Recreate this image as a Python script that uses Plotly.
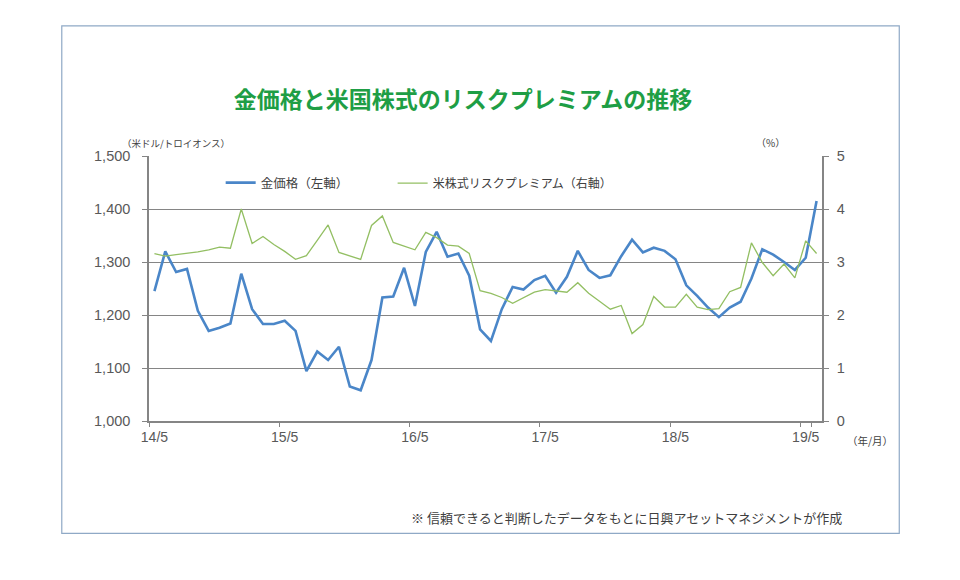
import pandas as pd
import plotly.graph_objects as go

# 月次データ 2014/5 - 2019/6
months = [f"{d.year % 100}/{d.month}" for d in pd.date_range("2014-05-01", periods=62, freq="MS")]

gold = [1245, 1320, 1281, 1287, 1208, 1170, 1176, 1184, 1278, 1211,
        1183, 1183, 1189, 1170, 1094, 1131, 1115, 1140, 1065, 1058,
        1115, 1233, 1235, 1289, 1217, 1319, 1357, 1310, 1316, 1274,
        1173, 1151, 1211, 1253, 1248, 1266, 1274, 1242, 1272, 1321,
        1285, 1270, 1275, 1311, 1342, 1318, 1327, 1321, 1305, 1256,
        1236, 1214, 1196, 1214, 1225, 1269, 1324, 1314, 1300, 1285,
        1308, 1415]

premium = [3.16, 3.11, 3.14, 3.16, 3.19, 3.23, 3.28, 3.26, 4.00, 3.35,
           3.48, 3.33, 3.20, 3.05, 3.12, 3.41, 3.70, 3.18, 3.12, 3.05,
           3.69, 3.87, 3.37, 3.30, 3.23, 3.56, 3.46, 3.32, 3.30, 3.16,
           2.46, 2.41, 2.33, 2.22, 2.33, 2.43, 2.48, 2.45, 2.43, 2.61,
           2.41, 2.26, 2.11, 2.18, 1.65, 1.82, 2.35, 2.15, 2.15, 2.39,
           2.15, 2.10, 2.12, 2.44, 2.52, 3.36, 2.99, 2.74, 2.96, 2.70,
           3.40, 3.16]

tick_months = months[::12]
left_ticks = [1000, 1100, 1200, 1300, 1400, 1500]
right_ticks = [0, 1, 2, 3, 4, 5]

font = "Liberation Sans, Noto Sans CJK JP, sans-serif"
jp = "Noto Sans CJK JP, sans-serif"
grey = "#858585"

fig = go.Figure()
fig.add_trace(go.Scatter(x=months, y=gold, name="金価格（左軸）", mode="lines",
                         line=dict(color="#4a86c8", width=2.6),
                         showlegend=True, legend="legend"))
fig.add_trace(go.Scatter(x=months, y=premium, name="米株式リスクプレミアム（右軸）", mode="lines",
                         line=dict(color="#93bf63", width=1.3), yaxis="y2",
                         showlegend=True, legend="legend2"))

# ページの余白 (8px) を差し引いた寸法
fig.update_layout(
    width=952, height=572,
    margin=dict(l=141, r=138, t=148, b=159),
    paper_bgcolor="white", plot_bgcolor="white",
    showlegend=True,
    font=dict(family=font, size=13, color="#595959"),
    title=dict(text="<b>金価格と米国株式のリスクプレミアムの推移</b>",
               x=0.478, xanchor="center", y=0.839, yanchor="middle",
               font=dict(family=jp, size=23, color="#1e9e45")),
    xaxis=dict(type="category", range=[-0.5, 61.5], tickson="boundaries",
               tickvals=tick_months, ticktext=tick_months, tickangle=0,
               ticks="outside", ticklen=4, tickcolor=grey, ticklabelstandoff=2,
               showline=True, linecolor=grey, linewidth=1.5, showgrid=False,
               tickfont=dict(size=14, color="#595959")),
    yaxis=dict(range=[1000, 1500], tickvals=left_ticks, tickformat=",d",
               ticks="outside", ticklen=5, tickcolor=grey, ticklabelstandoff=9,
               showline=True, linecolor=grey, linewidth=1.5,
               showgrid=True, gridcolor=grey, gridwidth=1.3, zeroline=False,
               tickfont=dict(size=14.5, color="#595959")),
    yaxis2=dict(range=[0, 5], tickvals=right_ticks, overlaying="y", side="right",
                ticks="outside", ticklen=5, tickcolor=grey, ticklabelstandoff=5,
                showline=True, linecolor=grey, linewidth=1.5,
                showgrid=False, zeroline=False,
                tickfont=dict(size=14.5, color="#595959")),
    legend=dict(orientation="h", x=0.1065, y=0.898, yanchor="middle",
                bgcolor="rgba(0,0,0,0)", visible=True,
                font=dict(family=jp, size=12.5, color="#404040")),
    legend2=dict(orientation="h", x=0.362, y=0.898, yanchor="middle",
                 bgcolor="rgba(0,0,0,0)", visible=True,
                 font=dict(family=jp, size=12, color="#404040")),
)

# 外枠
fig.add_shape(type="rect", xref="paper", yref="paper",
              x0=-0.1296, x1=1.1148, y0=-0.424, y1=1.491,
              line=dict(color="#8fa9c6", width=1.2), layer="below")

notes = [
    ("（米ドル/トロイオンス）", 0.04, 1.05, 9.5),
    ("（%）", 0.924, 1.05, 10),
    ("（年/月）", 1.072, -0.073, 10.5),
]
for text, x, y, size in notes:
    fig.add_annotation(text=text, xref="paper", yref="paper", x=x, y=y,
                       xanchor="center", yanchor="middle", showarrow=False,
                       font=dict(family=jp, size=size, color="#404040"))

fig.add_annotation(text="※ 信頼できると判断したデータをもとに日興アセットマネジメントが作成",
                   xref="paper", yref="paper", x=1.033, y=-0.364,
                   xanchor="right", yanchor="middle", showarrow=False,
                   font=dict(family=jp, size=13, color="#404040"))

fig.write_html("out.html")
